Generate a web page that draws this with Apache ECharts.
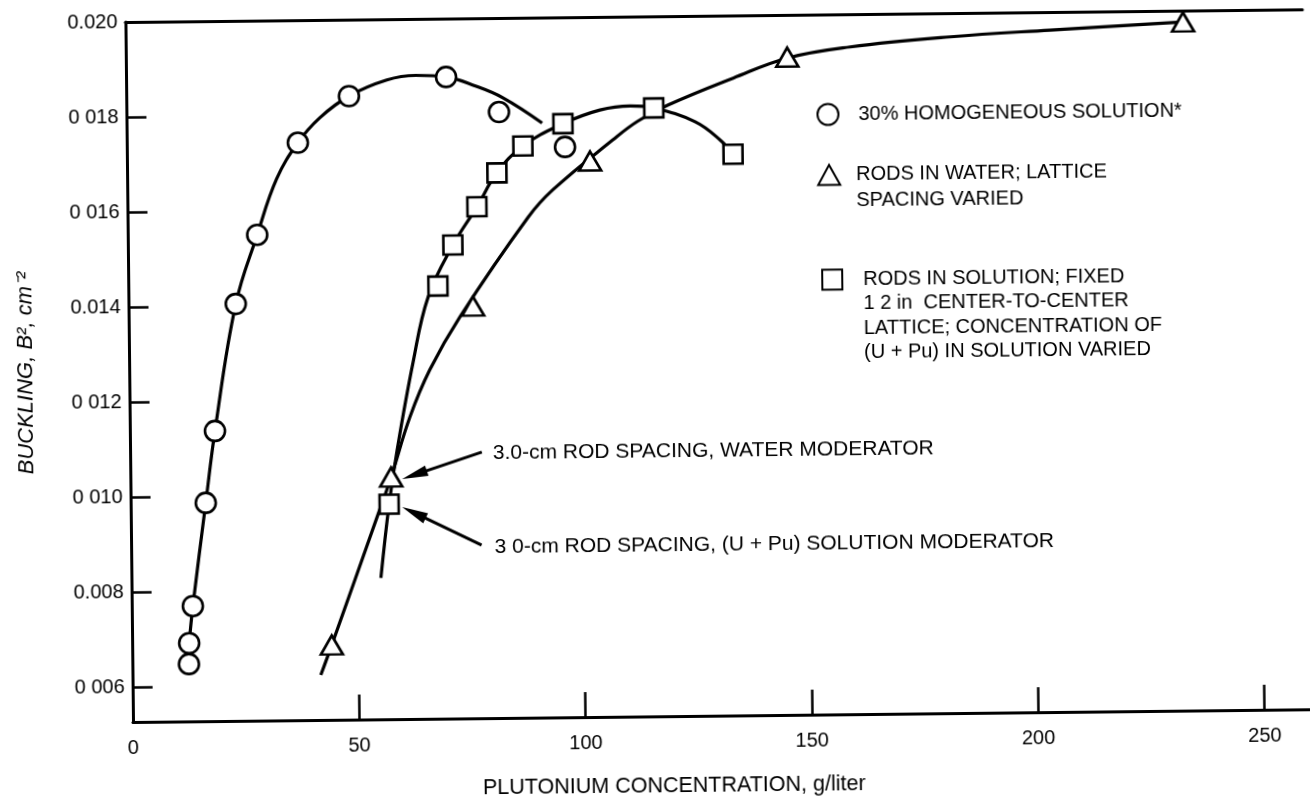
<!DOCTYPE html>
<html><head><meta charset="utf-8">
<script src="https://cdn.jsdelivr.net/npm/echarts@6/dist/echarts.min.js"></script>
<style>
html,body{margin:0;padding:0;width:1310px;height:796px;overflow:hidden;background:#fff;}
#c{position:absolute;left:-20px;top:-20px;width:1360px;height:850px;transform-origin:153px 742px;transform:rotate(-0.62deg);}
</style></head><body><div id="c"></div>
<script>
// ---- measured points ----
const homogConc = [12.5, 12.6, 13.5, 16.6, 18.8, 23.7, 28.6, 37.8, 49.2, 70.7, 82.3, 96.8];
const homogB2   = [0.00647, 0.00691, 0.00769, 0.00986, 0.01137, 0.01404, 0.01549, 0.01742, 0.01839, 0.01877, 0.01802, 0.01727];
const waterConc = [44.1, 57.6, 76.1, 102.3, 146.1, 233.6];
const waterB2   = [0.00684, 0.01036, 0.01394, 0.01697, 0.01911, 0.01976];
const solnConc  = [57.1, 68.4, 71.8, 77.2, 81.7, 87.5, 96.4, 116.5, 133.9];
const solnB2    = [0.00979, 0.01437, 0.01523, 0.01603, 0.01674, 0.01730, 0.01776, 0.01807, 0.01708];
// ---- hand-drawn curves ----
const homogCurveX = [12.6, 13.5, 16.6, 18.8, 23.7, 28.6, 33.0, 37.8, 42.7, 49.2, 57.6, 64.0, 70.7, 77.0, 83.2, 91.8];
const homogCurveY = [0.00691, 0.00769, 0.00986, 0.01137, 0.01404, 0.01549, 0.01666, 0.01742, 0.01794, 0.01839, 0.01872, 0.01881, 0.01877, 0.01858, 0.01832, 0.01778];
const waterCurveX = [41.6, 44.1, 54.6, 57.6, 61.9, 66.4, 73.2, 88.5, 94.0, 107.4, 113.0, 119.7, 134.1, 146.1, 160.0, 182.1, 204.2, 233.6];
const waterCurveY = [0.00621, 0.00684, 0.00957, 0.01036, 0.01162, 0.01261, 0.01372, 0.01580, 0.01637, 0.01741, 0.01780, 0.01813, 0.01868, 0.01909, 0.01931, 0.01950, 0.01962, 0.01976];
const solnCurveX = [55.1, 57.1, 59.0, 62.7, 66.2, 71.8, 77.2, 81.7, 87.5, 96.4, 104.6, 111.3, 116.5, 125.6, 131.1, 133.9];
const solnCurveY = [0.00824, 0.00979, 0.01093, 0.01276, 0.01414, 0.01523, 0.01603, 0.01674, 0.01730, 0.01776, 0.01804, 0.01812, 0.01807, 0.01777, 0.01738, 0.01708];
// ---- axes ----
const xTickValues = [0, 50, 100, 150, 200, 250];
const xTickLabels = ['0', '50', '100', '150', '200', '250'];
const yTickValues = [0.006, 0.008, 0.010, 0.012, 0.014, 0.016, 0.018, 0.020];
const yTickLabels = ['0 006', '0.008', '0 010', '0 012', '0.014', '0 016', '0 018', '0.020'];
const xName = 'PLUTONIUM CONCENTRATION, g/liter';
const yName = 'BUCKLING, B\u00B2, cm\u207B\u00B2';
// ---- legend & notes ----
const seriesNames = ['30% HOMOGENEOUS SOLUTION*', 'RODS IN WATER; LATTICE SPACING VARIED', 'RODS IN SOLUTION; FIXED 1 2 in CENTER-TO-CENTER LATTICE; CONCENTRATION OF (U + Pu) IN SOLUTION VARIED'];
const legendLines = [
  ['30% HOMOGENEOUS SOLUTION*'],
  ['RODS IN WATER; LATTICE', 'SPACING VARIED'],
  ['RODS IN SOLUTION; FIXED', '1 2 in  CENTER-TO-CENTER', 'LATTICE; CONCENTRATION OF', '(U + Pu) IN SOLUTION VARIED']
];
const noteTexts = ['3.0-cm ROD SPACING, WATER MODERATOR', '3 0-cm ROD SPACING, (U + Pu) SOLUTION MODERATOR'];

const FONT = "'Liberation Sans', Arial, Helvetica, sans-serif";
const zip = (a, b) => a.map((v, i) => [v, b[i]]);
const lookup = (vals, labels) => v => { let k = 0, d = 1e9; vals.forEach((t, i) => { const e = Math.abs(t - v); if (e < d) { d = e; k = i; } }); return labels[k]; };
// first text line level with the icon: pad the top with blank lines (legend text is centred on the icon)
const legendText = lines => new Array(lines.length - 1).fill('').concat(lines).join('\n');

const chart = echarts.init(document.getElementById('c'), null, {renderer: 'canvas'});
const lineBase = {type: 'line', showSymbol: false, smooth: 0.4, silent: true, z: 2, lineStyle: {color: '#000', width: 3.2}};
const markerStyle = {color: '#fff', borderColor: '#000', borderWidth: 2.6, opacity: 1};
const legendBase = {orient: 'vertical', padding: 0, selectedMode: false, itemGap: 0};
const legText = (lh, pl) => ({fontFamily: FONT, fontSize: 20, color: '#000', lineHeight: lh, padding: [0, 0, 0, pl]});

const option = {
  animation: false,
  backgroundColor: '#fff',
  grid: {left: 153, top: 42, width: 1177, height: 700, containLabel: false},
  xAxis: [{
    type: 'value', min: 0, max: 260, position: 'bottom',
    axisLine: {lineStyle: {color: '#000', width: 3}},
    axisTick: {show: true, inside: true, length: 25, lineStyle: {color: '#000', width: 2.5}, customValues: xTickValues.filter(v => v > 0)},
    axisLabel: {customValues: xTickValues, formatter: lookup(xTickValues, xTickLabels), margin: 16, fontSize: 20, color: '#000', fontFamily: FONT},
    splitLine: {show: false},
    name: xName, nameLocation: 'middle', nameGap: 59,
    nameTextStyle: {fontFamily: FONT, fontSize: 21.5, color: '#000', padding: [0, 96, 0, 0]}
  }, {
    type: 'value', min: 0, max: 260, position: 'top',
    axisLine: {lineStyle: {color: '#000', width: 3}},
    axisTick: {show: false}, axisLabel: {show: false}, splitLine: {show: false}
  }],
  yAxis: {
    type: 'value', min: 0.005263, max: 0.020,
    axisLine: {show: true, lineStyle: {color: '#000', width: 3}},
    axisTick: {show: true, inside: true, length: 20, lineStyle: {color: '#000', width: 2.5}, customValues: yTickValues.slice(0, -1)},
    axisLabel: {customValues: yTickValues, formatter: lookup(yTickValues, yTickLabels), margin: 8, fontSize: 20, color: '#000', fontFamily: FONT},
    splitLine: {show: false},
    name: yName, nameLocation: 'middle', nameGap: 92,
    nameTextStyle: {fontFamily: FONT, fontSize: 22, color: '#000', fontStyle: 'italic'}
  },
  legend: [
    Object.assign({}, legendBase, {data: [seriesNames[0]], left: 843, top: 130, itemWidth: 21, itemHeight: 21,
      formatter: () => legendText(legendLines[0]), textStyle: legText(24, 15)}),
    Object.assign({}, legendBase, {data: [seriesNames[1]], left: 843, top: 163.5, itemWidth: 22, itemHeight: 20,
      formatter: () => legendText(legendLines[1]), textStyle: legText(26, 11)}),
    Object.assign({}, legendBase, {data: [seriesNames[2]], left: 846, top: 221.5, itemWidth: 20, itemHeight: 20,
      formatter: () => legendText(legendLines[2]), textStyle: legText(24.5, 16)})
  ],
  series: [
    Object.assign({}, lineBase, {name: 'homog-curve', data: zip(homogCurveX, homogCurveY)}),
    Object.assign({}, lineBase, {name: 'water-curve', data: zip(waterCurveX, waterCurveY)}),
    Object.assign({}, lineBase, {name: 'soln-curve', data: zip(solnCurveX, solnCurveY)}),
    {type: 'scatter', name: seriesNames[0], symbol: 'circle', symbolSize: 20, z: 5, silent: true, itemStyle: markerStyle, data: zip(homogConc, homogB2)},
    {type: 'scatter', name: seriesNames[1], symbol: 'triangle', symbolSize: [22, 19], z: 5, silent: true, itemStyle: markerStyle, data: zip(waterConc, waterB2)},
    {type: 'scatter', name: seriesNames[2], symbol: 'rect', symbolSize: 19, z: 5, silent: true, itemStyle: markerStyle, data: zip(solnConc, solnB2)}
  ]
};
chart.setOption(option);

// annotation arrows anchored to the 3.0-cm spacing points
function arrow(tail, tip) {
  const dx = tip[0] - tail[0], dy = tip[1] - tail[1], L = Math.hypot(dx, dy);
  const ux = dx / L, uy = dy / L, hl = 26, hw = 5.5;
  const bx = tip[0] - ux * hl, by = tip[1] - uy * hl;
  return [
    {type: 'line', silent: true, z: 10, shape: {x1: tail[0], y1: tail[1], x2: bx + ux * 4, y2: by + uy * 4}, style: {stroke: '#000', lineWidth: 3}},
    {type: 'polygon', silent: true, z: 10, shape: {points: [tip, [bx - uy * hw, by + ux * hw], [bx + uy * hw, by - ux * hw]]}, style: {fill: '#000'}}
  ];
}
const pT = chart.convertToPixel({xAxisIndex: 0, yAxisIndex: 0}, [waterConc[1], waterB2[1]]);
const pS = chart.convertToPixel({xAxisIndex: 0, yAxisIndex: 0}, [solnConc[0], solnB2[0]]);
const t1 = [pT[0] + 91, pT[1] - 24], h1 = [pT[0] + 11, pT[1] + 2];
const t2 = [pS[0] + 92, pS[1] + 42], h2 = [pS[0] + 13, pS[1] + 3];
const graphics = [].concat(arrow(t1, h1), arrow(t2, h2), [
  {type: 'text', silent: true, z: 10, style: {x: t1[0] + 11, y: t1[1] + 1, text: noteTexts[0], font: '21px ' + FONT, fill: '#000', verticalAlign: 'middle'}},
  {type: 'text', silent: true, z: 10, style: {x: t2[0] + 13, y: t2[1] + 2, text: noteTexts[1], font: '21px ' + FONT, fill: '#000', verticalAlign: 'middle'}}
]);
chart.setOption({graphic: graphics});
</script></body></html>
